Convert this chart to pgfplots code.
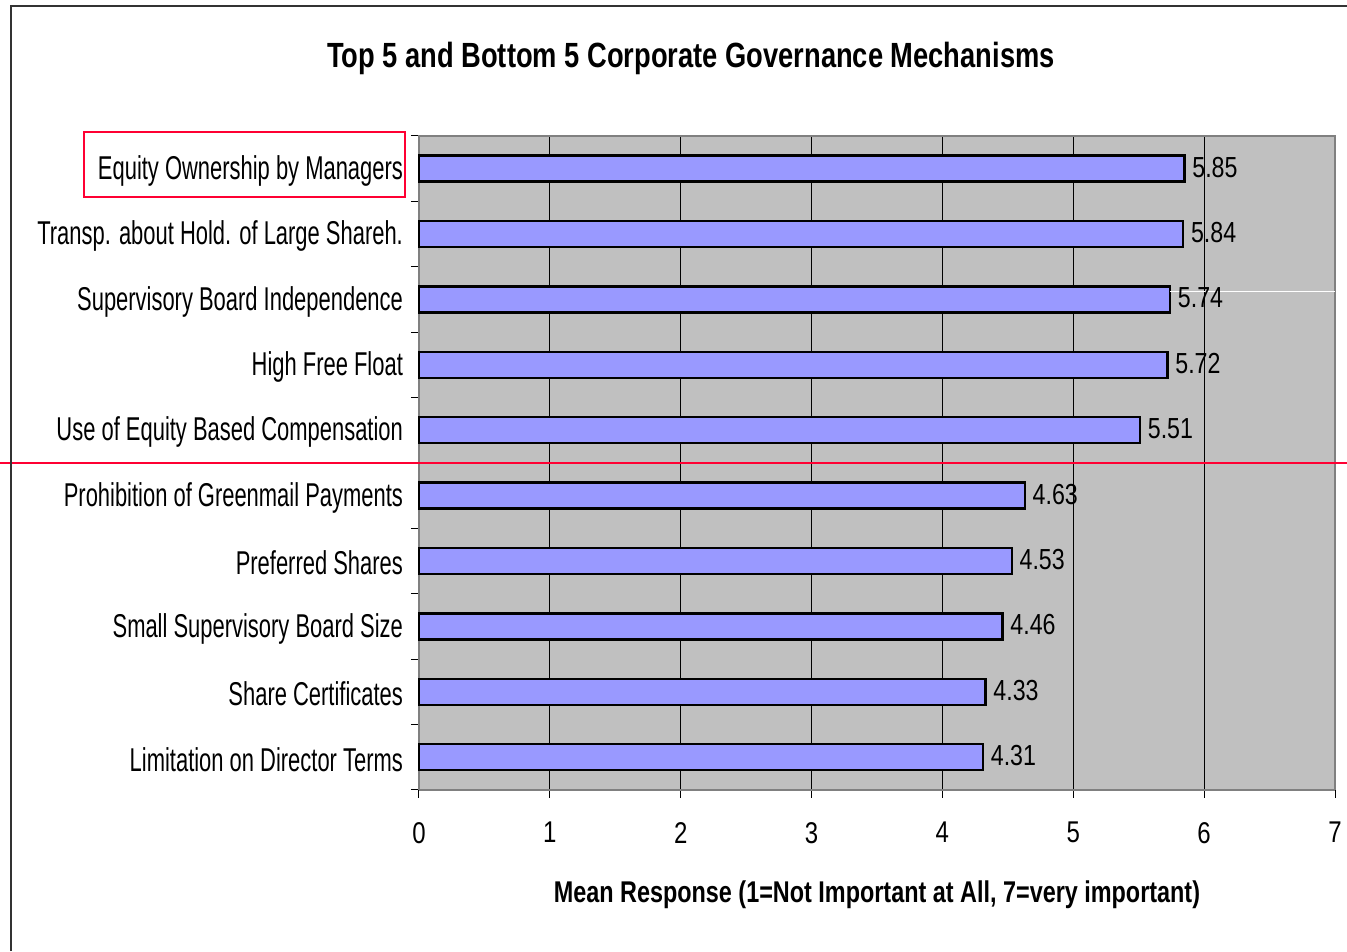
\documentclass[border=0pt]{standalone}
\usepackage{fontspec}
\setmainfont[FakeStretch=0.8,BoldFeatures={FakeStretch=0.78}]{Liberation Sans}
\newfontfamily\labelfont[FakeStretch=0.665]{Liberation Sans}
\usepackage{pgfplots}
\pgfplotsset{compat=1.18}
\definecolor{barblue}{HTML}{9999FF}
\definecolor{plotgray}{HTML}{C0C0C0}
\definecolor{axgray}{HTML}{808080}
\definecolor{myred}{HTML}{FF0033}
\begin{document}
\begin{tikzpicture}
\begin{axis}[
  scale only axis, width=458pt, height=327pt,
  xbar, bar width=13pt,
  xmin=0, xmax=7, ymin=-0.5, ymax=9.5,
  clip=false,
  /pgf/number format/assume math mode=true,
  axis background/.style={fill=plotgray},
  axis line style={axgray, line width=1pt},
  xtick={1,...,6},
  extra x ticks={0,7},
  extra x tick style={grid=none},
  xmajorgrids,
  grid style={black, line width=0.5pt},
  ytick={-0.5,0.5,...,9.5}, yticklabels={},
  extra y ticks={0,...,9},
  extra y tick labels={Limitation on Director Terms, Share Certificates, Small Supervisory Board Size, Preferred Shares, Prohibition of Greenmail Payments, Use of Equity Based Compensation, High Free Float, Supervisory Board Independence, Transp. about Hold. of Large Shareh., Equity Ownership by Managers},
  extra y tick style={major tick length=0pt, grid=none},
  tick align=outside, major tick length=4pt,
  tick style={black, line width=0.5pt},
  xtick pos=bottom, ytick pos=left,
  x tick label style={font=\fontsize{15}{17}\selectfont, yshift=-8.5pt},
  y tick label style={font=\labelfont\fontsize{16.5}{18}\selectfont, xshift=-4.5pt, yshift=-1pt},
  nodes near coords={\pgfmathprintnumber[fixed,precision=2]{\pgfplotspointmeta}},
  nodes near coords style={font=\fontsize{14.5}{16}\selectfont, anchor=west, xshift=0pt, yshift=0.8pt},
]
\addplot[fill=barblue, draw=black, line width=1.2pt] coordinates {
  (5.85,9) (5.84,8) (5.74,7) (5.72,6) (5.51,5)
  (4.63,4) (4.53,3) (4.46,2) (4.33,1) (4.31,0)
};
\draw[white, line width=0.5pt] (rel axis cs:0.8199,0.7615) -- (rel axis cs:1,0.7615);
\node[font=\bfseries\fontsize{17.5}{20}\selectfont] at (rel axis cs:0.2969,1.1185) {Top 5 and Bottom 5 Corporate Governance Mechanisms};
\node[font=\bfseries\fontsize{15}{18}\selectfont] at (rel axis cs:0.5,-0.1600) {Mean Response (1=Not Important at All, 7=very important)};
\draw[myred, line width=1pt] (rel axis cs:-0.3657,0.9067) rectangle (rel axis cs:-0.01528,1.00612);
\draw[myred, line width=1.1pt] (rel axis cs:-0.4574,0.5) -- (rel axis cs:1.0131,0.5);
\draw[black!80, line width=1pt] (rel axis cs:-0.44541,-0.2462) -- (rel axis cs:-0.44541,1.19801) -- (rel axis cs:1.0131,1.19801);
\coordinate (BL) at (rel axis cs:-0.4574,-0.2462);
\coordinate (TR) at (rel axis cs:1.0131,1.20795);
\end{axis}
\pgfresetboundingbox
\useasboundingbox (BL) rectangle (TR);
\end{tikzpicture}
\end{document}
